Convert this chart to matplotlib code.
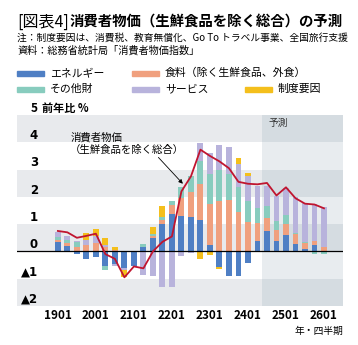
import numpy as np
import matplotlib
matplotlib.use("Agg")
import matplotlib.pyplot as plt
from matplotlib import transforms

plt.rcParams['font.family'] = ['Noto Sans CJK JP', 'DejaVu Sans']

quarters = ["1901", "1902", "1903", "1904", "2001", "2002", "2003", "2004",
            "2101", "2102", "2103", "2104", "2201", "2202", "2203", "2204",
            "2301", "2302", "2303", "2304", "2401", "2402", "2403", "2404",
            "2501", "2502", "2503", "2504", "2601"]
tick_labels = ["1901", "2001", "2101", "2201", "2301", "2401", "2501", "2601"]

energy = [0.33, 0.20, -0.08, -0.28, -0.21, -0.55, -0.47, -0.61,
          -0.55, 0.18, 0.50, 1.00, 1.38, 1.30, 1.28, 1.15,
          0.23, -0.56, -0.90, -0.90, -0.43, 0.38, 0.74, 0.37,
          0.59, 0.28, 0.10, 0.22, 0.00]
food = [0.10, 0.10, 0.15, 0.22, 0.30, 0.15, 0.06, 0.00,
        0.00, 0.00, 0.05, 0.16, 0.33, 0.65, 0.90, 1.31,
        1.52, 1.83, 1.87, 1.46, 1.09, 0.67, 0.47, 0.43,
        0.42, 0.36, 0.20, 0.15, 0.18]
other_goods = [0.10, 0.13, 0.18, 0.03, 0.00, -0.14, 0.00, 0.00,
               0.00, 0.08, 0.08, 0.12, 0.15, 0.40, 0.60, 0.86,
               1.08, 1.15, 0.98, 0.91, 0.76, 0.55, 0.45, 0.33,
               0.32, 0.05, 0.04, -0.08, -0.08]
services = [0.20, 0.12, 0.05, 0.18, 0.25, 0.07, -0.08, -0.08,
            0.00, -0.88, -0.90, -1.32, -1.32, -0.15, -0.05, 0.64,
            0.77, 0.92, 0.98, 0.83, 0.92, 0.80, 0.74, 0.89,
            1.00, 1.30, 1.43, 1.37, 1.43]
policy = [0.00, 0.00, 0.00, 0.25, 0.28, 0.27, 0.10, -0.25,
          0.00, 0.00, 0.25, 0.37, 0.00, 0.00, 0.00, -0.27,
          -0.13, -0.10, 0.00, 0.22, 0.12, 0.00, 0.00, 0.00,
          0.00, 0.00, 0.00, 0.00, 0.00]
core_cpi = [0.75, 0.70, 0.50, 0.57, 0.65, -0.10, -0.27, -0.95,
            -0.55, -0.62, 0.00, 0.35, 0.55, 2.20, 2.75, 3.73,
            3.50, 3.30, 3.05, 2.55, 2.48, 2.46, 2.51, 2.05,
            2.35, 1.95, 1.75, 1.72, 1.58]

series = [("エネルギー", energy, "#4f7fc4"),
          ("食料（除く生鮮食品、外食）", food, "#f0a07e"),
          ("その他財", other_goods, "#88ccbe"),
          ("サービス", services, "#b8b3dc"),
          ("制度要因", policy, "#f4bf1c")]

W, H = 358, 345
fig = plt.figure(figsize=(W / 100, H / 100), dpi=100)
ax = fig.add_axes([17 / W, 1 - 306 / H, 326 / W, 191 / H])

x = np.arange(len(quarters))
fc_start = quarters.index("2403") - 0.5
ax.set_xlim(-4.3, 30.0)
ax.set_ylim(-2, 5)

# background bands
for lo in range(-2, 5):
    shaded = (lo % 2 == 0)
    ax.axhspan(lo, lo + 1, xmin=0, xmax=1, color="#e8eaed" if shaded else "white",
               lw=0, zorder=0)
    xf = (fc_start + 4.3) / 34.3
    ax.axhspan(lo, lo + 1, xmin=xf, xmax=1, color="#d5dce1" if shaded else "#e8ecef",
               lw=0, zorder=0)

pos_base = np.zeros(len(x))
neg_base = np.zeros(len(x))
for name, vals, col in series:
    v = np.array(vals)
    pos = np.where(v > 0, v, 0)
    neg = np.where(v < 0, v, 0)
    ax.bar(x, pos, 0.62, bottom=pos_base, color=col, lw=0, zorder=2, label=name)
    ax.bar(x, neg, 0.62, bottom=neg_base, color=col, lw=0, zorder=2)
    pos_base += pos
    neg_base += neg

ax.axhline(0, color="black", lw=0.9, zorder=3)
ax.plot(x, core_cpi, color="#c0152f", lw=1.3, zorder=4)

for s in ax.spines.values():
    s.set_visible(False)
ax.set_yticks([])
ax.set_xticks([quarters.index(t) for t in tick_labels])
ax.set_xticklabels(tick_labels, fontsize=8.5, fontweight="bold")
ax.tick_params(axis="x", length=0, pad=2)

# y labels inside the plot, above each line
tr = transforms.blended_transform_factory(ax.transAxes, ax.transData)
xl = 21 / 326
for v in [4, 3, 2, 1, 0, -1, -2]:
    lab = str(v) if v >= 0 else "▲" + str(-v)
    ax.text(xl, v + 0.25, lab, transform=tr, ha="right", va="center",
            fontsize=8.5, fontweight="bold", family=["DejaVu Sans"])
ax.text(xl, 5.25, "5", transform=tr, ha="right", va="center",
        fontsize=8.5, fontweight="bold", clip_on=False)
ax.text(xl + 0.012, 5.25, "前年比 %", transform=tr, ha="left", va="center",
        fontsize=8, fontweight="bold", clip_on=False)

ax.text(22.2, 4.72, "予測", fontsize=7, color="#333333", va="center")

ax.annotate("消費者物価\n（生鮮食品を除く総合）", xy=(13.15, 2.48), xytext=(1.3, 3.95),
            fontsize=7.5, va="center", ha="left", linespacing=1.2,
            arrowprops=dict(arrowstyle="-|>", color="black", lw=0.6,
                            shrinkA=0, shrinkB=0, mutation_scale=6,
                            relpos=(0.75, 0.0)))

fig.text(1 - 15 / W, 1 - 331 / H, "年・四半期", ha="right", va="center", fontsize=7)

# title and notes
t1 = fig.text(17 / W, 1 - 22 / H, "[図表4]", ha="left", va="center", fontsize=11.5)
r = fig.canvas.get_renderer()
x1 = t1.get_window_extent(r).x1
fig.text(x1 / W + 1 / W, 1 - 22 / H, "消費者物価（生鮮食品を除く総合）の予測", ha="left",
         va="center", fontsize=10.4, fontweight="bold")
fig.text(17 / W, 1 - 38 / H, "注：制度要因は、消費税、教育無償化、Go To トラベル事業、全国旅行支援",
         ha="left", va="center", fontsize=7.0)
fig.text(17 / W, 1 - 51 / H, "資料：総務省統計局「消費者物価指数」", ha="left", va="center",
         fontsize=7.3)

# legend
leg_pos = [(17, 73), (132, 73), (17, 89), (132, 89), (245, 89)]
for (name, vals, col), (px, py) in zip(series, leg_pos):
    fig.patches.append(plt.Rectangle((px / W, 1 - (py + 2.5) / H), 27 / W, 5 / H,
                                     color=col, transform=fig.transFigure))
    fig.text((px + 33) / W, 1 - py / H, name, ha="left", va="center", fontsize=7.8)

fig.savefig("out.png", dpi=100)
